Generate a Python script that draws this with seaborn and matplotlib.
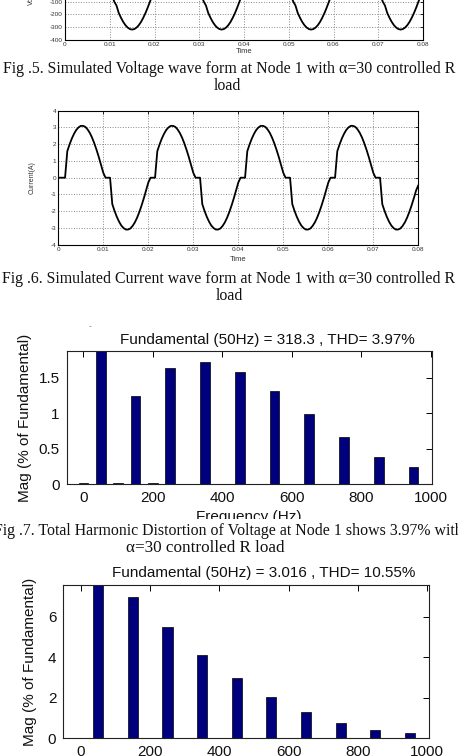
import numpy as np
import matplotlib
matplotlib.use("Agg")
import matplotlib.pyplot as plt
import seaborn as sns
from matplotlib.patches import Rectangle

sns.set_theme(style="white")
plt.rcParams['font.family'] = ['Liberation Sans', 'DejaVu Sans']
plt.rcParams['axes.unicode_minus'] = False

# ---------------- data ----------------
wave_time_ticks = [0, 0.01, 0.02, 0.03, 0.04, 0.05, 0.06, 0.07, 0.08]
wave_time_labels = ['0', '0.01', '0.02', '0.03', '0.04', '0.05', '0.06', '0.07', '0.08']
voltage_ticks = [-400, -300, -200, -100, 0, 100, 200, 300, 400]
current_ticks = [-4, -3, -2, -1, 0, 1, 2, 3, 4]

# samples every 0.5 ms from 0 to 0.08 s (161 samples)
sample_time = np.round(np.arange(161) * 0.0005, 4)

voltage_node1 = [
    0, 50, 99, 130, 188, 226, 259, 285, 304, 316, 320, 316, 304, 285, 259, 226, 188, 145, 99, 50,
    0, -50, -99, -130, -188, -226, -259, -285, -304, -316, -320, -316, -304, -285, -259, -226, -188, -145, -99, -50,
    0, 50, 99, 130, 188, 226, 259, 285, 304, 316, 320, 316, 304, 285, 259, 226, 188, 145, 99, 50,
    0, -50, -99, -130, -188, -226, -259, -285, -304, -316, -320, -316, -304, -285, -259, -226, -188, -145, -99, -50,
    0, 50, 99, 130, 188, 226, 259, 285, 304, 316, 320, 316, 304, 285, 259, 226, 188, 145, 99, 50,
    0, -50, -99, -130, -188, -226, -259, -285, -304, -316, -320, -316, -304, -285, -259, -226, -188, -145, -99, -50,
    0, 50, 99, 130, 188, 226, 259, 285, 304, 316, 320, 316, 304, 285, 259, 226, 188, 145, 99, 50,
    0, -50, -99, -130, -188, -226, -259, -285, -304, -316, -320, -316, -304, -285, -259, -226, -188, -145, -99, -50,
    0,
]

current_node1 = [
    0, 0, 0, 0, 1.58, 1.98, 2.33, 2.62, 2.85, 3.00, 3.09, 3.09, 3.03, 2.88, 2.67, 2.39, 2.05, 1.66, 1.23, 0.77,
    0.29, 0, 0, 0, -1.58, -1.98, -2.33, -2.62, -2.85, -3.00, -3.09, -3.09, -3.03, -2.88, -2.67, -2.39, -2.05, -1.66, -1.23, -0.77,
    -0.29, 0, 0, 0, 1.58, 1.98, 2.33, 2.62, 2.85, 3.00, 3.09, 3.09, 3.03, 2.88, 2.67, 2.39, 2.05, 1.66, 1.23, 0.77,
    0.29, 0, 0, 0, -1.58, -1.98, -2.33, -2.62, -2.85, -3.00, -3.09, -3.09, -3.03, -2.88, -2.67, -2.39, -2.05, -1.66, -1.23, -0.77,
    -0.29, 0, 0, 0, 1.58, 1.98, 2.33, 2.62, 2.85, 3.00, 3.09, 3.09, 3.03, 2.88, 2.67, 2.39, 2.05, 1.66, 1.23, 0.77,
    0.29, 0, 0, 0, -1.58, -1.98, -2.33, -2.62, -2.85, -3.00, -3.09, -3.09, -3.03, -2.88, -2.67, -2.39, -2.05, -1.66, -1.23, -0.77,
    -0.29, 0, 0, 0, 1.58, 1.98, 2.33, 2.62, 2.85, 3.00, 3.09, 3.09, 3.03, 2.88, 2.67, 2.39, 2.05, 1.66, 1.23, 0.77,
    0.29, 0, 0, 0, -1.58, -1.98, -2.33, -2.62, -2.85, -3.00, -3.09, -3.09, -3.03, -2.88, -2.67, -2.39, -2.05, -1.66, -1.23, -0.77,
    -0.45,
]

freq_ticks = [0, 200, 400, 600, 800, 1000]

thd_v_freq = [0, 50, 100, 150, 200, 250, 350, 450, 550, 650, 750, 850, 950]
thd_v_mag = [0.015, 100, 0.012, 1.24, 0.015, 1.64, 1.72, 1.58, 1.31, 0.99, 0.67, 0.38, 0.24]
thd_v_yticks = [0, 0.5, 1, 1.5]
thd_v_yticklabels = ['0', '0.5', '1', '1.5']

thd_i_freq = [50, 150, 250, 350, 450, 550, 650, 750, 850, 950]
thd_i_mag = [100, 6.98, 5.50, 4.12, 2.98, 2.03, 1.29, 0.74, 0.41, 0.23]
thd_i_yticks = [0, 2, 4, 6]

title_v = "Fundamental (50Hz) = 318.3 , THD= 3.97%"
title_i = "Fundamental (50Hz) = 3.016 , THD= 10.55%"

cap5 = "Fig .5. Simulated Voltage wave form at Node 1 with \u03b1=30 controlled R"
cap6 = "Fig .6. Simulated Current wave form at Node 1 with \u03b1=30 controlled R"
cap7 = "Fig .7. Total Harmonic Distortion of Voltage at Node 1 shows 3.97% with"
cap7b = "\u03b1=30 controlled R load"

# ---------------- layout ----------------
W, H, DPI = 458, 756, 100
fig = plt.figure(figsize=(W / DPI, H / DPI), dpi=DPI)
fig.patch.set_facecolor('white')


def box(l, t, r, b):
    return [l / W, 1 - b / H, (r - l) / W, (b - t) / H]


def ftext(x, y, s, **kw):
    return fig.text(x / W, 1 - y / H, s, **kw)


serif = ['Liberation Serif', 'DejaVu Serif']
cap_fs = 11.4


def style_wave(ax, yticks, ylim, ylabel):
    ax.set_xlim(0, 0.08)
    ax.set_ylim(*ylim)
    ax.set_xticks(wave_time_ticks)
    ax.set_xticklabels(wave_time_labels)
    ax.set_yticks(yticks)
    ax.set_yticklabels([str(v) for v in yticks])
    ax.grid(True, linestyle=':', color='#888888', linewidth=0.7)
    ax.tick_params(direction='in', length=2, width=0.6, top=True, right=True,
                   labelsize=4.6, pad=1.5, colors='black', labelcolor='#333333')
    for s in ax.spines.values():
        s.set_color('black')
        s.set_linewidth(0.8)
    ax.set_xlabel('Time', fontsize=5.5, color='#333333')
    ax.set_ylabel(ylabel, fontsize=5, color='#333333')
    ax.set_facecolor('white')


# Fig 5 voltage (cropped at the top of the page)
ax_v = fig.add_axes(box(65, -61.6, 423, 39.7))
sns.lineplot(x=sample_time, y=voltage_node1, ax=ax_v, color='black', linewidth=1.3)
style_wave(ax_v, voltage_ticks, (-400, 400), 'Voltage(V)')
ax_v.xaxis.set_label_coords(0.5, -0.082)
ax_v.yaxis.set_label_coords(-0.085, 0.5)

# Fig 6 current
ax_c = fig.add_axes(box(58.3, 110.6, 418.3, 244.8))
sns.lineplot(x=sample_time, y=current_node1, ax=ax_c, color='black', linewidth=1.3)
style_wave(ax_c, current_ticks, (-4, 4), 'Current(A)')
ax_c.xaxis.set_label_coords(0.5, -0.08)
ax_c.yaxis.set_label_coords(-0.062, 0.5)


def style_bar(ax, xlim, ylim, yticks, yticklabels, title, title_pad, title_x):
    ax.set_xlim(*xlim)
    ax.set_ylim(*ylim)
    ax.set_xticks(freq_ticks)
    ax.set_xticklabels([str(v) for v in freq_ticks])
    ax.set_yticks(yticks)
    ax.set_yticklabels(yticklabels)
    ax.tick_params(direction='in', length=4, width=0.7, top=True, right=True,
                   labelsize=11, pad=5, colors='black', labelcolor='#111111')
    for s in ax.spines.values():
        s.set_color('#222222')
        s.set_linewidth(0.8)
    ax.set_ylabel('Mag (% of Fundamental)', fontsize=11, color='#111111')
    ax.set_title(title, fontsize=11, color='#111111', pad=title_pad, x=title_x)
    ax.set_facecolor('white')
    ax.grid(False)


# Fig 7 THD voltage
ax_tv = fig.add_axes(box(66.7, 351, 431.7, 484))
sns.barplot(x=thd_v_freq, y=thd_v_mag, ax=ax_tv, native_scale=True, width=0.56,
            color='#00007F', edgecolor='black', linewidth=0.5, saturation=1)
style_bar(ax_tv, (-48, 1002), (0, 1.88), thd_v_yticks, thd_v_yticklabels, title_v, 5, 0.549)
ax_tv.set_xlabel('Frequency (Hz)', fontsize=11, color='#111111')
ax_tv.xaxis.set_label_coords(0.5, -0.195)
ax_tv.yaxis.set_label_coords(-0.095, 0.5)

# Fig 8 THD current
ax_ti = fig.add_axes(box(63.3, 585, 428.8, 738))
sns.barplot(x=thd_i_freq, y=thd_i_mag, ax=ax_ti, native_scale=True, width=0.29,
            color='#00007F', edgecolor='black', linewidth=0.5, saturation=1)
style_bar(ax_ti, (-51, 1005), (0, 7.58), thd_i_yticks, [str(v) for v in thd_i_yticks], title_i, 6, 0.549)
ax_ti.set_xlabel('')
ax_ti.yaxis.set_label_coords(-0.072, 0.5)

# crop mask below the Frequency label (the embedded picture ends there)
fig.patches.append(Rectangle((0, 1 - 524.5 / H), 1, 5.5 / H, transform=fig.transFigure,
                             facecolor='white', edgecolor='none', zorder=5))

# small mark above fig 7 plot
ftext(90, 327, '-', fontsize=6, color='#666666', ha='center', va='center')

# captions
ftext(229, 69, cap5, fontsize=cap_fs, family=serif, ha='center', va='center', color='#111111', zorder=6)
ftext(227, 86, 'load', fontsize=cap_fs, family=serif, ha='center', va='center', color='#111111', zorder=6)
ftext(229, 279, cap6, fontsize=cap_fs, family=serif, ha='center', va='center', color='#111111', zorder=6)
ftext(229, 296, 'load', fontsize=cap_fs, family=serif, ha='center', va='center', color='#111111', zorder=6)
ftext(228, 531, cap7, fontsize=cap_fs, family=serif, ha='center', va='center', color='#111111', zorder=6)
ftext(205, 548, cap7b, fontsize=12.3, family=serif, ha='center', va='center', color='#111111', zorder=6)

fig.savefig('out.png', dpi=DPI, facecolor='white')
